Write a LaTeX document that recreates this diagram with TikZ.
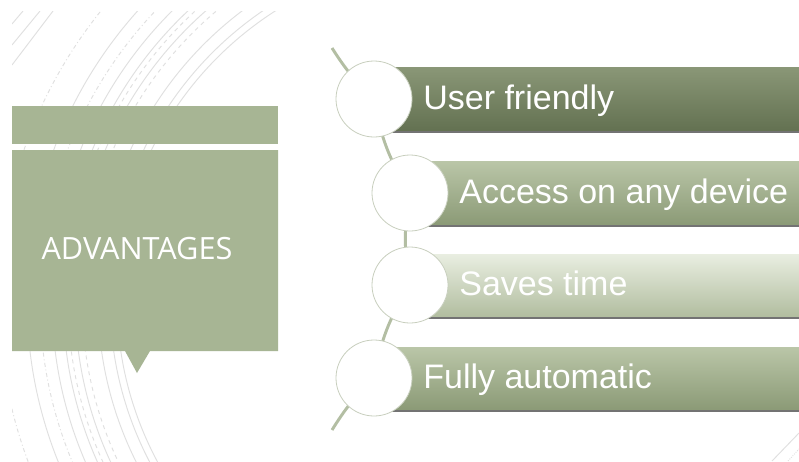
\documentclass[tikz,border=0pt]{standalone}
\usepackage{fontspec}
\setmainfont{Liberation Sans}
\newfontfamily\headfont{Open Sans}
\usetikzlibrary{positioning}

\definecolor{sage}{HTML}{A7B594}
\definecolor{ringgray}{HTML}{C8CFBE}
\definecolor{spinegreen}{HTML}{B3BEA3}
\definecolor{darktop}{HTML}{8A9777}
\definecolor{darkbot}{HTML}{637151}
\definecolor{midtop}{HTML}{BAC6A8}
\definecolor{midbot}{HTML}{8B9A76}
\definecolor{paletop}{HTML}{E9EEE1}
\definecolor{palebot}{HTML}{B1BD9F}

\tikzset{
  bgarc/.style={black!12, line width=0.7pt},
  spine/.style={spinegreen, line width=2.2pt},
  ring/.style={circle, draw=ringgray, fill=white, line width=0.6pt, minimum size=57pt, inner sep=0pt},
  item/.style={text=white, font=\fontsize{25.5}{30}\selectfont, inner sep=0pt, text height=18pt, text depth=0pt, yshift=1pt},
  headtext/.style={text=white, font=\headfont\fontsize{23}{28}\selectfont, inner sep=0pt},
  barshadow/.style={fill=black!55}
}

\begin{document}
\begin{tikzpicture}[x=0.75pt, y=-0.75pt]
\fill[white] (0,0) rectangle (799,461);
\useasboundingbox (0,0) rectangle (799,461);

% background rings
\begin{scope}
  \clip (12,11) rectangle (320,461);
  \draw[bgarc] (460,300) circle (343) circle (350) circle (362) circle (385) circle (397) circle (408) circle (433);
  \draw[bgarc, dashed] (460,300) circle (378) circle (392);
  \draw[bgarc, dash dot] (460,300) circle (420) circle (461);
  \draw[bgarc] (23,11) -- (12,24);
  \draw[bgarc] (40,11) -- (12,45);
  \draw[bgarc] (53,11) -- (12,65);
\end{scope}
\draw[bgarc] (772,461) -- (799,433);
\draw[bgarc, densely dotted] (788,461) -- (799,449);

% title box
\fill[sage] (12,106) rectangle (278,144);
\fill[sage] (12,150) -- (278,150) -- (278,351) -- (150,351) -- (137,373) -- (125,351) -- (12,351) -- cycle;
\node[headtext] (title) at (137,249) {ADVANTAGES};

% spine through the rings
\coordinate (stop) at (332,48);
\coordinate (p1) at (374,99);
\coordinate (p2) at (410,193);
\coordinate (p3) at (410,285);
\coordinate (p4) at (374,378);
\coordinate (sbot) at (332,430);
\draw[spine] (stop) to[bend right=7] (p1) to[bend right=11] (p2) to[bend right=10] (p3) to[bend right=11] (p4) to[bend right=7] (sbot);

% bars
\shade[top color=darktop, bottom color=darkbot] (374,67) rectangle (799,131);
\fill[barshadow] (374,131) rectangle (799,133);
\shade[top color=midtop, bottom color=midbot] (410,161) rectangle (799,225);
\fill[barshadow] (410,225) rectangle (799,227);
\shade[top color=paletop, bottom color=palebot] (410,254) rectangle (799,317);
\fill[barshadow] (410,317) rectangle (799,319);
\shade[top color=midtop, bottom color=midbot] (374,347) rectangle (799,410);
\fill[barshadow] (374,410) rectangle (799,412);

% rings and labels
\node[ring] (c1) at (p1) {};
\node[ring] (c2) at (p2) {};
\node[ring] (c3) at (p3) {};
\node[ring] (c4) at (p4) {};
\node[item, right=8pt of c1] (t1) {User friendly};
\node[item, right=8pt of c2] (t2) {Access on any device};
\node[item, right=8pt of c3] (t3) {Saves time};
\node[item, right=8pt of c4] (t4) {Fully automatic};
\end{tikzpicture}
\end{document}
